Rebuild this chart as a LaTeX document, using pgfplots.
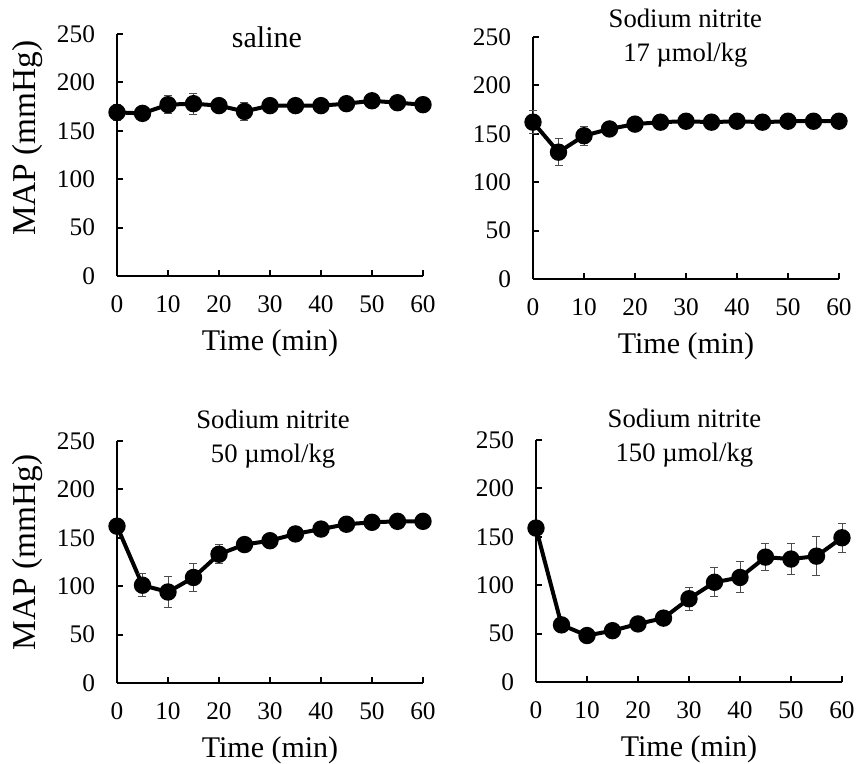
\documentclass[border=0pt]{standalone}
\usepackage{fontspec}
\setmainfont{Liberation Serif}
\usepackage{pgfplots}
\pgfplotsset{compat=1.18}

\pgfplotsset{
  panel/.style={
    scale only axis,
    width=229.5pt, height=181.5pt,
    xmin=0, xmax=60, ymin=0, ymax=250,
    axis lines=left,
    axis line style={-, line width=1.8pt},
    xtick={0,10,...,60}, ytick={0,50,...,250},
    tick align=inside,
    major tick length=4.5pt,
    tick style={line width=1.6pt, black},
    clip=false,
    /pgf/number format/assume math mode=true,
    tick label style={font=\fontsize{19}{21}\selectfont},
    xticklabel style={yshift=-11pt},
    yticklabel style={xshift=-13pt},
    xlabel={Time (min)},
    xlabel style={at={(axis description cs:0.5,-0.277)}, anchor=center, font=\fontsize{22.5}{26}\selectfont},
    ylabel style={rotate=-90, anchor=center, font=\fontsize{25}{28}\selectfont},
  },
  ser/.style={
    black, line width=3pt, mark=*, mark size=5pt,
    error bars/y dir=both, error bars/y explicit,
    error bars/error bar style={line width=0.7pt, black!70},
    error bars/error mark options={rotate=90, mark size=3pt, line width=0.7pt, black!70},
  },
}
\tikzset{ttl/.style={font=\fontsize{20}{25}\selectfont, align=center, anchor=center}}

\begin{document}
\begin{tikzpicture}
\useasboundingbox (0,0) rectangle (643.5pt,573pt);

% saline
\begin{axis}[panel, at={(87.75pt,366pt)},
  ylabel={MAP (mmHg)},
  ylabel style={at={(axis description cs:-0.294,0.57)}, rotate=90}]
\addplot[ser] coordinates {
  (0,169) +- (0,8)  (5,168) +- (0,7)  (10,177) +- (0,9)  (15,178) +- (0,11)
  (20,176) +- (0,7) (25,170) +- (0,9) (30,176) +- (0,7)  (35,176) +- (0,7)
  (40,176) +- (0,5) (45,178) +- (0,4) (50,181) +- (0,4)  (55,179) +- (0,4)
  (60,177) +- (0,4)
};
\node[ttl, font=\fontsize{22.5}{26}\selectfont] at (axis description cs:0.49,0.985) {saline};
\end{axis}

% 17 umol/kg
\begin{axis}[panel, at={(399.75pt,363.75pt)}]
\addplot[ser] coordinates {
  (0,162) +- (0,12) (5,131) +- (0,14) (10,148) +- (0,10) (15,155) +- (0,6)
  (20,160) +- (0,4) (25,162) +- (0,3) (30,163) +- (0,3)  (35,162) +- (0,3)
  (40,163) +- (0,3) (45,162) +- (0,3) (50,163) +- (0,3)  (55,163) +- (0,3)
  (60,163) +- (0,3)
};
\node[ttl] at (axis description cs:0.498,0.996) {Sodium nitrite\\17 µmol/kg};
\end{axis}

% 50 umol/kg
\begin{axis}[panel, at={(87.75pt,60.75pt)},
  ylabel={MAP (mmHg)},
  ylabel style={at={(axis description cs:-0.294,0.54)}, rotate=90}]
\addplot[ser] coordinates {
  (0,162) +- (0,5)  (5,101) +- (0,12) (10,94) +- (0,16)  (15,109) +- (0,14)
  (20,133) +- (0,10) (25,143) +- (0,7) (30,147) +- (0,6) (35,154) +- (0,6)
  (40,159) +- (0,5) (45,164) +- (0,4)  (50,166) +- (0,4) (55,167) +- (0,3)
  (60,167) +- (0,3)
};
\node[ttl] at (axis description cs:0.51,1.008) {Sodium nitrite\\50 µmol/kg};
\end{axis}

% 150 umol/kg
\begin{axis}[panel, at={(402pt,61.5pt)}]
\addplot[ser] coordinates {
  (0,159) +- (0,5)  (5,59) +- (0,4)   (10,48) +- (0,4)   (15,53) +- (0,4)
  (20,60) +- (0,4)  (25,66) +- (0,5)  (30,86) +- (0,12)  (35,103) +- (0,15)
  (40,108) +- (0,16) (45,129) +- (0,14) (50,127) +- (0,16) (55,130) +- (0,20)
  (60,149) +- (0,15)
};
\node[ttl] at (axis description cs:0.485,1.008) {Sodium nitrite\\150 µmol/kg};
\end{axis}
\end{tikzpicture}
\end{document}
